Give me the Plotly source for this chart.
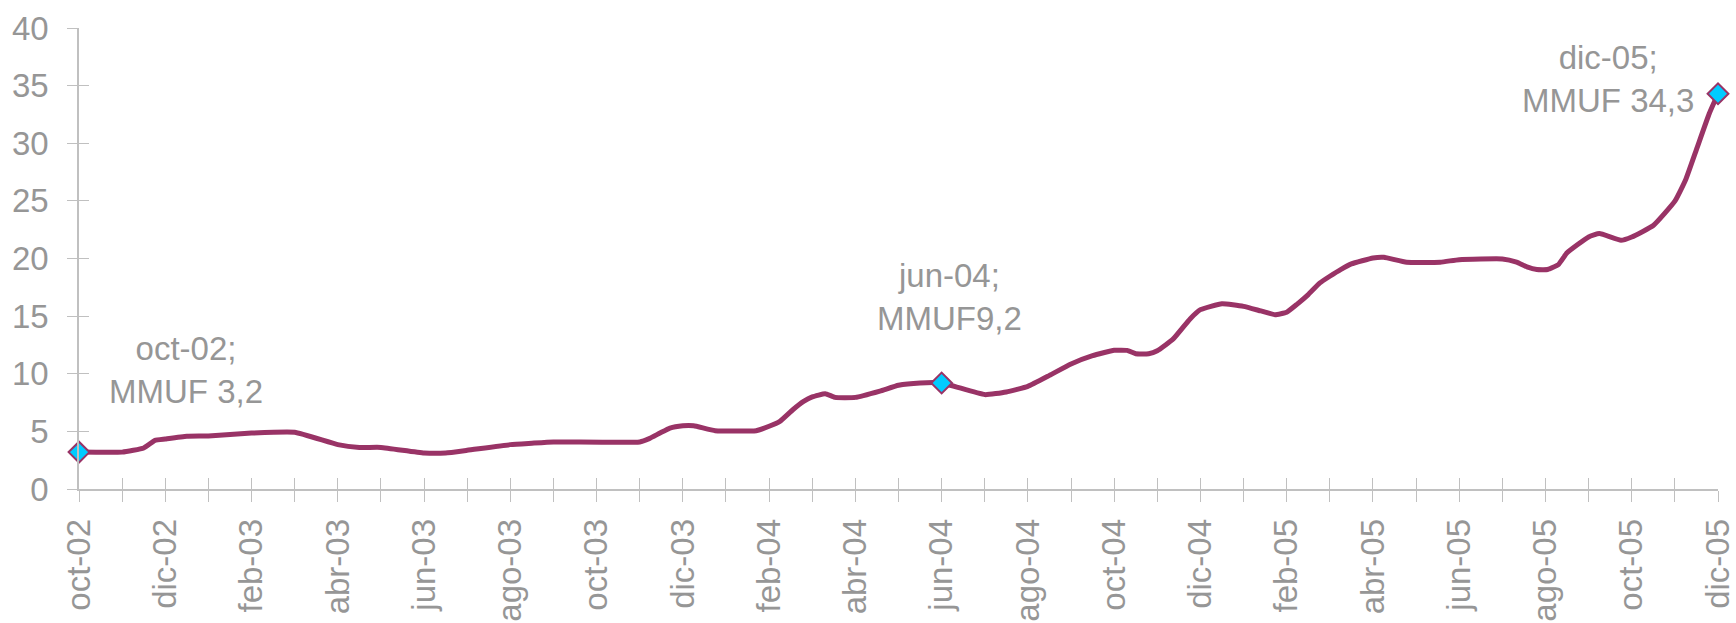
import plotly.graph_objects as go

# Month categories on the x axis (Spanish abbreviations)
months = ["oct-02", "nov-02", "dic-02",
          "ene-03", "feb-03", "mar-03", "abr-03", "may-03", "jun-03",
          "jul-03", "ago-03", "sep-03", "oct-03", "nov-03", "dic-03",
          "ene-04", "feb-04", "mar-04", "abr-04", "may-04", "jun-04",
          "jul-04", "ago-04", "sep-04", "oct-04", "nov-04", "dic-04",
          "ene-05", "feb-05", "mar-05", "abr-05", "may-05", "jun-05",
          "jul-05", "ago-05", "sep-05", "oct-05", "nov-05", "dic-05"]

t_months = [0, 1.0, 1.5, 1.76, 2.0, 2.5, 3.0, 4.0, 5.0, 6.0, 6.5, 7.0, 8.0, 8.5,
            9.0, 10.0, 10.5, 11.0, 13.0, 13.22, 13.47, 13.7, 14.0, 14.25, 14.75,
            15.7, 16.0, 16.25, 16.55, 16.8, 17.0, 17.3, 17.53, 18.0, 18.57, 19.0,
            19.5, 20.0, 21.0, 21.5, 22.0, 22.5, 23.0, 23.5, 24.0, 24.3, 24.5,
            24.8, 25.0, 25.37, 25.76, 26.0, 26.5, 27.0, 27.4, 27.73, 28.0, 28.23,
            28.5, 28.77, 29.0, 29.25, 29.5, 30.0, 30.25, 30.78, 31.56, 32.0,
            33.0, 33.33, 33.57, 33.8, 34.05, 34.3, 34.5, 35.0, 35.25, 35.75,
            36.0, 36.5, 37.0, 37.25, 37.5, 37.8, 38.0]

# MMUF values
mmuf = [3.2, 3.2, 3.56, 4.22, 4.34, 4.57, 4.6, 4.85, 4.92, 3.85, 3.61, 3.61,
        3.13, 3.13, 3.36, 3.85, 3.97, 4.08, 4.08, 4.37, 4.86, 5.29, 5.49, 5.49,
        5.06, 5.06, 5.44, 5.87, 6.88, 7.6, 7.99, 8.27, 7.95, 7.95, 8.5, 9.0,
        9.2, 9.2, 8.19, 8.42, 8.91, 9.86, 10.85, 11.57, 12.03, 12.03, 11.74,
        11.74, 12.0, 13.02, 14.76, 15.56, 16.08, 15.85, 15.45, 15.13, 15.34,
        16.0, 16.87, 17.88, 18.46, 19.04, 19.53, 20.05, 20.11, 19.68, 19.68,
        19.9, 19.96, 19.68, 19.27, 19.04, 19.04, 19.47, 20.49, 21.87, 22.16,
        21.58, 21.87, 22.86, 24.97, 26.83, 29.45, 32.6, 34.3]

# Highlighted points
hl_months = ["oct-02", "jun-04", "dic-05"]
hl_values = [3.2, 9.2, 34.3]
hl_texts = ["oct-02;<br>MMUF 3,2", "jun-04;<br>MMUF9,2", "dic-05;<br>MMUF 34,3"]

y_ticks = [0, 5, 10, 15, 20, 25, 30, 35, 40]

LINE = "#993366"
GRAY_TXT = "#969696"
AXIS = "#C0C0C0"
FONT = "Liberation Sans, Arial, sans-serif"
FS = 33

tick_pos = list(range(len(months)))
tick_txt = [m if i % 2 == 0 else "" for i, m in enumerate(months)]
hl_x = [months.index(m) for m in hl_months]

fig = go.Figure()
fig.add_trace(go.Scatter(
    x=t_months, y=mmuf, mode="lines",
    line=dict(color=LINE, width=5, shape="spline", smoothing=0.4),
    hoverinfo="skip", showlegend=False, cliponaxis=False))
fig.add_trace(go.Scatter(
    x=hl_x, y=hl_values, mode="markers",
    marker=dict(symbol="diamond", size=16, color="#00CCFF",
                line=dict(color=LINE, width=2)),
    showlegend=False, cliponaxis=False))
# invisible trace to attach the overlay axes (inner half of cross tick marks)
fig.add_trace(go.Scatter(x=[0], y=[0], xaxis="x2", yaxis="y2", mode="markers",
                         marker=dict(opacity=0), hoverinfo="skip",
                         showlegend=False))

ann_pos = [(2.48, 10.29), (20.19, 16.65), (35.45, 35.56)]
for (ax_, ay_), txt in zip(ann_pos, hl_texts):
    fig.add_annotation(x=ax_, y=ay_, text=txt, showarrow=False,
                       xanchor="center", yanchor="middle",
                       font=dict(family=FONT, size=FS, color=GRAY_TXT))

fig.update_layout(
    width=1736, height=623,
    margin=dict(l=79, r=18, t=28, b=134, autoexpand=False),
    paper_bgcolor="white", plot_bgcolor="white",
    xaxis=dict(range=[0, len(months) - 1], tickmode="array",
               tickvals=tick_pos, ticktext=tick_txt, tickangle=-90,
               ticks="outside", ticklen=11, tickcolor=AXIS, tickwidth=1,
               showline=True, linecolor=AXIS, linewidth=1.5,
               showgrid=False, zeroline=False,
               tickfont=dict(family=FONT, size=FS, color=GRAY_TXT),
               automargin=False, ticklabelstandoff=4),
    yaxis=dict(range=[0, 40], tickmode="array", tickvals=y_ticks,
               ticks="outside", ticklen=10, tickcolor=AXIS, tickwidth=1,
               showline=True, linecolor=AXIS, linewidth=1.5,
               showgrid=False, zeroline=False,
               tickfont=dict(family=FONT, size=FS, color=GRAY_TXT),
               automargin=False, ticklabelstandoff=12),
    xaxis2=dict(overlaying="x", anchor="y2", side="bottom",
                range=[0, len(months) - 1], tickmode="array",
                tickvals=tick_pos, ticks="inside", ticklen=11,
                tickcolor=AXIS, tickwidth=1, showticklabels=False,
                showline=False, showgrid=False, zeroline=False),
    yaxis2=dict(overlaying="y", anchor="x2", side="left",
                range=[0, 40], tickmode="array", tickvals=y_ticks,
                ticks="inside", ticklen=10, tickcolor=AXIS, tickwidth=1,
                showticklabels=False, showline=False, showgrid=False,
                zeroline=False),
)

fig.write_html("out.html", config={"displayModeBar": False},
               post_script="document.body.style.margin='0';document.body.style.overflow='hidden';")
